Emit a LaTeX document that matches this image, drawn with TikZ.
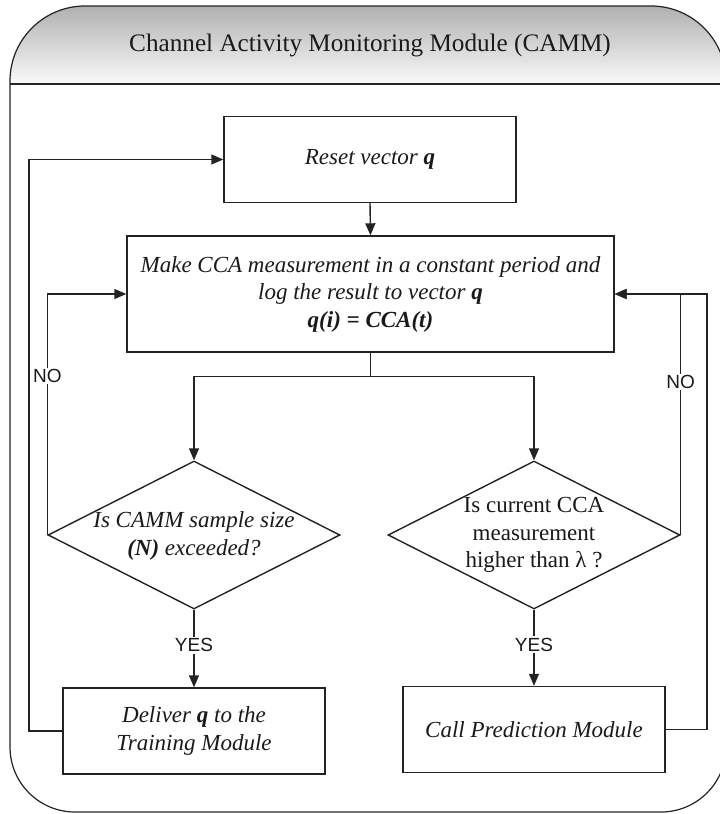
\documentclass[tikz,border=0pt]{standalone}
\usepackage{fontspec}
\setmainfont{Liberation Serif}
\setsansfont{Liberation Sans}
\usetikzlibrary{arrows.meta,shapes.geometric}
\definecolor{linec}{HTML}{232323}
\definecolor{textc}{HTML}{1A1A1A}
\definecolor{hdtop}{HTML}{B0B0B0}
\definecolor{hdbot}{HTML}{FAFAFA}
\newcommand\boxfnt{\fontsize{23}{27.5}\selectfont}
\newcommand\titlefnt{\fontsize{25.2}{30}\selectfont}
\newcommand\labfnt{\fontsize{19}{22}\selectfont\sffamily}
\begin{document}
\begin{tikzpicture}[x=1pt,y=-1pt,
  frame/.style={draw=linec,line width=1.2pt},
  boxnode/.style={draw=linec,line width=1.4pt,fill=white,inner sep=0pt,align=center,text=textc,font=\boxfnt\itshape},
  decnode/.style={diamond,draw=linec,line width=1.4pt,fill=white,inner sep=0pt,minimum width=292pt,minimum height=148pt},
  dectext/.style={align=center,inner sep=0pt,text=textc,font=\boxfnt},
  conn/.style={draw=linec,line width=1.4pt},
  arr/.style={conn,-{Triangle[length=12pt,width=10pt]}},
  lab/.style={fill=white,inner sep=1.5pt,text=textc,font=\labfnt}]
\useasboundingbox (0,0) rectangle (720,814);
\begin{scope}
\clip (0,0) rectangle (720,814);
% header shading
\shade[top color=hdtop,bottom color=hdbot]
  (10,84) -- (10,81) .. controls (10,39.6) and (43.6,6) .. (85,6) -- (651,6)
  .. controls (692.4,6) and (726,39.6) .. (726,81) -- (726,84) -- cycle;
% outer frame
\draw[frame] (10,81) .. controls (10,39.6) and (43.6,6) .. (85,6) -- (651,6)
  .. controls (692.4,6) and (726,39.6) .. (726,81) -- (726,747)
  .. controls (726,782.9) and (696.9,812) .. (661,812) -- (75,812)
  .. controls (39.1,812) and (10,782.9) .. (10,747) -- cycle;
\draw[frame] (10,84) -- (726,84);
\end{scope}
\node[text=textc,font=\titlefnt,inner sep=0pt] (title) at (370,45) {Channel Activity Monitoring Module (CAMM)};

% boxes
\node[boxnode,minimum width=292pt,minimum height=86pt] (reset) at (370,159.5) {Reset vector \textbf{q}};
\node[boxnode,minimum width=487pt,minimum height=116pt] (make) at (370.5,294)
  {Make CCA measurement in a constant period and\\ log the result to vector \textbf{q}\\ \textbf{q(i) = CCA(t)}};
\node[decnode] (d1) at (194,535) {};
\node[dectext,font=\boxfnt\itshape] (t1) at (194,536) {Is CAMM sample size\\ \textbf{(N)} exceeded?};
\node[decnode] (d2) at (534,535) {};
\node[dectext] (t2) at (534,535) {Is current CCA\\ measurement\\ higher than λ ?};
\node[boxnode,minimum width=262pt,minimum height=86pt] (deliver) at (194,731) {Deliver \textbf{q} to the\\ Training Module};
\node[boxnode,minimum width=262pt,minimum height=86pt] (callp) at (534,729.5) {Call Prediction Module};

% connectors
\draw[arr] (reset.south) -- (make.north);
\draw[conn] (make.south) -- ++(0,24) coordinate (split);
\draw[arr] (split) -| (d1.north);
\draw[arr] (split) -| (d2.north);
\draw[arr] (d1.west) |- node[lab,pos=0.33] (no1) {NO} (make.west);
\draw[arr] (d2.east) |- node[lab,pos=0.317] (no2) {NO} (make.east);
\draw[arr] (d1.south) -- node[lab,pos=0.46] (yes1) {YES} (deliver.north);
\draw[arr] (d2.south) -- node[lab,pos=0.46] (yes2) {YES} (callp.north);
\coordinate (ll) at (29,159.5);
\draw[arr] (deliver.west) -| (ll) -- (reset.west);
\coordinate (rl) at (707,294);
\draw[arr] (callp.east) -| (rl) -- (make.east);
\end{tikzpicture}
\end{document}
